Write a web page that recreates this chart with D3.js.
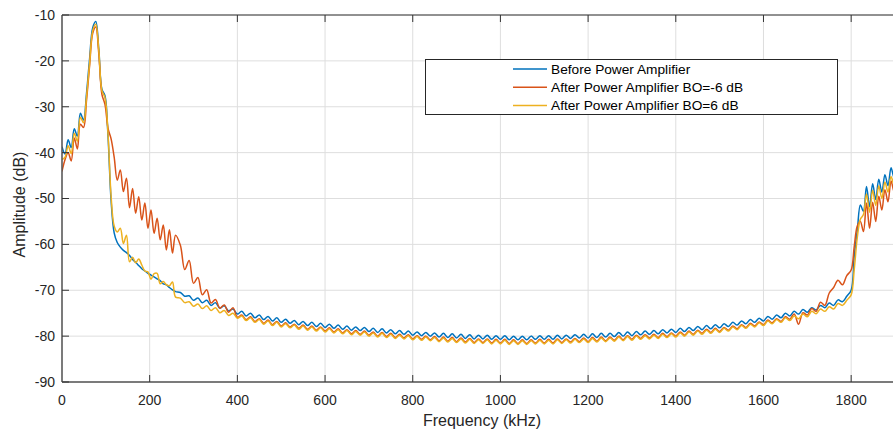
<!DOCTYPE html>
<html>

<head>
    <meta charset="utf-8">
    <style>
        body {
            margin: 0;
            background-color: white;
        }

        svg {
            font-family: 'Liberation Sans', Arial, sans-serif;
        }

        .tick-label {
            font-size: 14px;
            fill: #262626;
        }

        .axis-title {
            font-size: 16px;
            fill: #262626;
        }

        .legend-text {
            font-size: 13.7px;
            fill: #000;
        }
    </style>
</head>

<body>
    <svg width="893" height="430"></svg>
</body>

<script src="https://d3js.org/d3.v7.min.js"></script>

<script>
    let width = 893;
    let height = 430;
    let svg = d3.select("svg")

    let margin = { top: 15, right: -2, bottom: 48, left: 62 }

    // frequency grid (kHz): finer where the ripples are tighter
    let freqs = [
        ...d3.range(0, 260, 7),
        ...d3.range(270, 1801, 10),
        ...d3.range(1807, 1906, 7)
    ]

    let xTicks = [0, 200, 400, 600, 800, 1000, 1200, 1400, 1600, 1800]
    let yTicks = [-90, -80, -70, -60, -50, -40, -30, -20, -10]

    let seriesNames = ["Before Power Amplifier", "After Power Amplifier BO=-6 dB", "After Power Amplifier BO=6 dB"]
    let seriesColors = ["#0072BD", "#D95319", "#EDB120"]

    // Before Power Amplifier (dB)
    let before = [
        -38.7, -40.3, -37.2, -38.9, -34.8, -36.4, -31.4, -32.9, -27.0, -19.5,
        -12.8, -11.4, -17.6, -26.2, -27.6, -36.5, -50.5, -57.5, -59.6, -60.6,
        -61.3, -61.8, -62.4, -63.3, -63.9, -64.6, -65.3, -65.8, -66.3, -66.7,
        -67.1, -67.5, -67.9, -68.6, -68.8, -69.4, -69.9, -70.3,
        // 270 .. 1800
        -70.5, -71.3, -71.2, -72.2, -71.7, -72.7, -72.2, -73.3, -72.7, -73.9,
        -73.4, -74.5, -74.1, -75.2, -74.6, -75.6, -75.0, -76.0, -75.4, -76.4,
        -75.7, -76.7, -76.0, -77.0, -76.3, -77.2, -76.6, -77.5, -76.8, -77.7,
        -77.0, -77.9, -77.2, -78.1, -77.4, -78.3, -77.6, -78.5, -77.8, -78.7,
        -78.0, -78.8, -78.1, -79.0, -78.3, -79.2, -78.4, -79.3, -78.6, -79.5,
        -78.8, -79.6, -78.9, -79.8, -79.1, -79.9, -79.2, -80.0, -79.3, -80.2,
        -79.4, -80.3, -79.5, -80.4, -79.6, -80.5, -79.7, -80.6, -79.8, -80.6,
        -79.8, -80.7, -79.9, -80.7, -79.9, -80.8, -80.0, -80.8, -80.0, -80.8,
        -80.0, -80.7, -79.9, -80.7, -79.9, -80.7, -79.8, -80.6, -79.8, -80.5,
        -79.7, -80.4, -79.6, -80.4, -79.5, -80.3, -79.4, -80.2, -79.4, -80.1,
        -79.2, -80.0, -79.1, -79.9, -79.0, -79.7, -78.9, -79.6, -78.8, -79.5,
        -78.6, -79.3, -78.5, -79.2, -78.3, -79.0, -78.1, -78.8, -77.9, -78.6,
        -77.7, -78.4, -77.5, -78.2, -77.3, -77.9, -77.0, -77.6, -76.7, -77.3,
        -76.4, -77.0, -76.1, -76.7, -75.7, -76.3, -75.4, -76.0, -75.0, -75.6,
        -74.6, -75.2, -74.2, -74.8, -73.8, -74.3, -73.3, -73.8, -72.8, -73.3,
        -72.1, -72.5, -71.3, -70.0,
        // 1807 .. 1905
        -62.5, -57.0, -51.4, -52.8, -47.4, -51.8, -46.8, -50.2, -45.8, -48.6,
        -44.8, -47.2, -43.3, -45.5, -42.6
    ]

    // After Power Amplifier BO=-6 dB
    let boMinus6 = [
        -44.1, -41.5, -40.0, -41.8, -36.8, -39.2, -33.8, -34.5, -28.5, -21.0,
        -14.0, -12.6, -18.5, -27.3, -29.5, -34.7, -37.0, -41.0, -46.0, -43.8,
        -48.5, -45.6, -52.0, -47.8, -53.2, -49.6, -54.7, -51.0, -56.5, -52.5,
        -57.6, -54.3, -59.0, -55.8, -61.2, -56.8, -61.9, -58.0,
        // 270 .. 1800
        -60.2, -65.5, -63.5, -68.5, -67.2, -71.0, -69.9, -72.8, -72.0, -73.9,
        -73.2, -74.8, -73.8, -75.9, -75.4, -76.4, -75.8, -76.8, -76.2, -77.2,
        -76.5, -77.5, -76.8, -77.8, -77.1, -78.0, -77.4, -78.3, -77.6, -78.5,
        -77.8, -78.7, -78.0, -78.9, -78.2, -79.1, -78.4, -79.3, -78.6, -79.5,
        -78.8, -79.6, -78.9, -79.8, -79.1, -80.0, -79.2, -80.1, -79.4, -80.3,
        -79.6, -80.4, -79.7, -80.6, -79.9, -80.7, -80.0, -80.8, -80.1, -81.0,
        -80.2, -81.1, -80.3, -81.2, -80.4, -81.3, -80.5, -81.4, -80.6, -81.4,
        -80.6, -81.5, -80.7, -81.5, -80.7, -81.6, -80.8, -81.6, -80.8, -81.6,
        -80.8, -81.5, -80.7, -81.5, -80.7, -81.5, -80.6, -81.4, -80.6, -81.3,
        -80.5, -81.2, -80.4, -81.2, -80.3, -81.1, -80.2, -81.0, -80.2, -80.9,
        -80.0, -80.8, -79.9, -80.7, -79.8, -80.5, -79.7, -80.4, -79.6, -80.3,
        -79.4, -80.1, -79.3, -80.0, -79.1, -79.8, -78.9, -79.6, -78.7, -79.4,
        -78.5, -79.2, -78.3, -79.0, -78.1, -78.7, -77.8, -78.4, -77.5, -78.1,
        -77.2, -77.8, -76.9, -77.5, -76.5, -77.1, -76.2, -76.8, -75.8, -76.3,
        -75.2, -77.4, -74.9, -75.4, -74.0, -74.6, -72.6, -73.3, -70.6, -69.4,
        -67.8, -68.8, -66.8, -65.6,
        // 1807 .. 1905
        -60.5, -56.0, -55.0, -57.2, -51.0, -56.5, -50.8, -55.0, -49.5, -52.5,
        -48.1, -50.7, -46.2, -48.5, -45.8
    ]

    // After Power Amplifier BO=6 dB
    let bo6 = [
        -41.5, -41.0, -38.5, -40.2, -35.8, -37.5, -32.3, -33.5, -27.8, -20.5,
        -13.5, -12.0, -17.8, -26.5, -28.0, -36.0, -49.5, -56.0, -57.3, -56.5,
        -59.8, -58.0, -63.8, -62.8, -64.0, -63.2, -64.5, -65.8, -66.0, -67.6,
        -66.4, -66.3, -68.6, -68.1, -68.8, -69.0, -68.2, -71.5,
        // 270 .. 1800
        -71.7, -72.7, -72.5, -73.5, -73.0, -74.0, -73.4, -74.4, -73.8, -74.9,
        -74.4, -75.5, -75.0, -76.1, -75.6, -76.6, -76.0, -77.0, -76.4, -77.4,
        -76.7, -77.7, -77.0, -78.0, -77.3, -78.2, -77.6, -78.5, -77.8, -78.7,
        -78.0, -78.9, -78.2, -79.1, -78.4, -79.3, -78.6, -79.5, -78.8, -79.7,
        -79.0, -79.8, -79.1, -80.0, -79.3, -80.2, -79.4, -80.3, -79.6, -80.5,
        -79.8, -80.6, -79.9, -80.8, -80.1, -80.9, -80.2, -81.0, -80.3, -81.2,
        -80.4, -81.3, -80.5, -81.4, -80.6, -81.5, -80.7, -81.6, -80.8, -81.6,
        -80.8, -81.7, -80.9, -81.7, -80.9, -81.8, -81.0, -81.8, -81.0, -81.8,
        -81.0, -81.7, -80.9, -81.7, -80.9, -81.7, -80.8, -81.6, -80.8, -81.5,
        -80.7, -81.4, -80.6, -81.4, -80.5, -81.3, -80.4, -81.2, -80.4, -81.1,
        -80.2, -81.0, -80.1, -80.9, -80.0, -80.7, -79.9, -80.6, -79.8, -80.5,
        -79.6, -80.3, -79.5, -80.2, -79.3, -80.0, -79.1, -79.8, -78.9, -79.6,
        -78.7, -79.4, -78.5, -79.2, -78.3, -78.9, -78.0, -78.6, -77.7, -78.3,
        -77.4, -78.0, -77.1, -77.7, -76.7, -77.3, -76.4, -77.0, -76.0, -76.6,
        -75.6, -76.2, -75.2, -75.8, -74.6, -75.1, -74.1, -74.6, -73.6, -74.1,
        -72.9, -73.3, -72.2, -71.0,
        // 1807 .. 1905
        -65.5, -58.5, -54.5, -53.5, -49.0, -53.0, -48.2, -51.5, -47.2, -50.0,
        -46.4, -48.6, -45.2, -47.0, -44.8
    ]

    let allSeries = [before, boMinus6, bo6]
    allSeries.forEach((s, i) => {
        if (s.length != freqs.length) console.warn(seriesNames[i], s.length, freqs.length)
    })

    let x = d3.scaleLinear()
        .domain([0, 1900])
        .range([margin.left, width - margin.right])

    let y = d3.scaleLinear()
        .domain([-90, -10])
        .range([height - margin.bottom, margin.top])

    let x0 = x(0), x1 = x(1900), y0 = y(-90), y1 = y(-10)

    // grid
    let grid = svg.append("g").attr("class", "grid")
    grid.selectAll(".vgrid")
        .data(xTicks)
        .join("line")
        .attr("x1", d => x(d)).attr("x2", d => x(d))
        .attr("y1", y1).attr("y2", y0)
        .attr("stroke", "#dedede")
        .attr("stroke-width", 1)
    grid.selectAll(".hgrid")
        .data(yTicks)
        .join("line")
        .attr("x1", x0).attr("x2", x1)
        .attr("y1", d => y(d)).attr("y2", d => y(d))
        .attr("stroke", "#dedede")
        .attr("stroke-width", 1)

    // lines
    svg.append("clipPath")
        .attr("id", "plot-clip")
        .append("rect")
        .attr("x", x0).attr("y", y1)
        .attr("width", x1 - x0).attr("height", y0 - y1)

    let line = d3.line()
        .x((d, i) => x(freqs[i]))
        .y(d => y(d))
        .curve(d3.curveCatmullRom.alpha(0.5))

    svg.append("g")
        .attr("clip-path", "url(#plot-clip)")
        .selectAll("path")
        .data(allSeries)
        .join("path")
        .attr("d", d => line(d))
        .attr("fill", "none")
        .attr("stroke", (d, i) => seriesColors[i])
        .attr("stroke-width", 1.5)
        .attr("stroke-linejoin", "round")

    // axes box
    let axisColor = "#555"
    svg.append("line")
        .attr("x1", x0).attr("x2", x1).attr("y1", y1).attr("y2", y1)
        .attr("stroke", "#333").attr("stroke-width", 1)
    svg.append("line")
        .attr("x1", x0).attr("x2", x1).attr("y1", y0).attr("y2", y0)
        .attr("stroke", axisColor).attr("stroke-width", 1.5)
    svg.append("line")
        .attr("x1", x0).attr("x2", x0).attr("y1", y1).attr("y2", y0)
        .attr("stroke", axisColor).attr("stroke-width", 1.5)

    // ticks (inward, bottom + top + left)
    let tickLen = 7
    svg.append("g").selectAll("line")
        .data(xTicks.filter(d => d > 0))
        .join("line")
        .attr("x1", d => x(d)).attr("x2", d => x(d))
        .attr("y1", y0).attr("y2", y0 - tickLen)
        .attr("stroke", "#333").attr("stroke-width", 1)
    svg.append("g").selectAll("line")
        .data(xTicks.filter(d => d > 0))
        .join("line")
        .attr("x1", d => x(d)).attr("x2", d => x(d))
        .attr("y1", y1).attr("y2", y1 + tickLen)
        .attr("stroke", "#333").attr("stroke-width", 1)
    svg.append("g").selectAll("line")
        .data(yTicks)
        .join("line")
        .attr("x1", x0).attr("x2", x0 + tickLen)
        .attr("y1", d => y(d)).attr("y2", d => y(d))
        .attr("stroke", "#333").attr("stroke-width", 1)

    // tick labels
    svg.append("g").selectAll("text")
        .data(xTicks)
        .join("text")
        .attr("class", "tick-label")
        .attr("x", d => x(d))
        .attr("y", y0 + 23)
        .attr("text-anchor", "middle")
        .text(d => d)
    svg.append("g").selectAll("text")
        .data(yTicks)
        .join("text")
        .attr("class", "tick-label")
        .attr("x", x0 - 7)
        .attr("y", d => y(d))
        .attr("dy", "0.35em")
        .attr("text-anchor", "end")
        .text(d => d)

    // axis titles
    svg.append("text")
        .attr("class", "axis-title")
        .attr("x", 482)
        .attr("y", 426)
        .attr("text-anchor", "middle")
        .text("Frequency (kHz)")
    svg.append("text")
        .attr("class", "axis-title")
        .attr("transform", "translate(25," + ((y0 + y1) / 2 + 6) + ") rotate(-90)")
        .attr("text-anchor", "middle")
        .text("Amplitude (dB)")

    // legend
    let legend = svg.append("g").attr("class", "legend")
    legend.append("rect")
        .attr("x", 425.5).attr("y", 59.5)
        .attr("width", 412).attr("height", 55)
        .attr("fill", "white")
        .attr("stroke", "#262626")
        .attr("stroke-width", 1)
    let rows = legend.selectAll(".row")
        .data(seriesNames)
        .join("g")
        .attr("transform", (d, i) => "translate(0," + (69 + i * 18.3) + ")")
    rows.append("line")
        .attr("x1", 513).attr("x2", 547)
        .attr("y1", 0).attr("y2", 0)
        .attr("stroke", (d, i) => seriesColors[i])
        .attr("stroke-width", 1.5)
    rows.append("text")
        .attr("class", "legend-text")
        .attr("x", 551)
        .attr("dy", "0.35em")
        .text(d => d)

</script>

</html>
